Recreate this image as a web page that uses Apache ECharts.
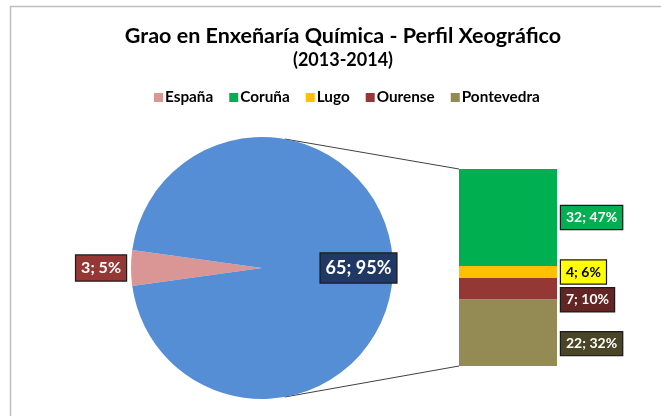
<!DOCTYPE html>
<html><head><meta charset="utf-8">
<script src="https://cdn.jsdelivr.net/npm/echarts@6/dist/echarts.min.js"></script>
<style>html,body{margin:0;padding:0;background:#fff}#c{width:661px;height:416px}</style>
</head><body><div id="c"></div>
<script>
// Data
const pieNames = ['Galicia', 'España'];
const pieValues = [65, 3];
const piePct = ['95%', '5%'];
const barNames = ['Coruña', 'Lugo', 'Ourense', 'Pontevedra'];
const barValues = [32, 4, 7, 22];
const barPct = ['47%', '6%', '10%', '32%'];
const legendNames = ['España', 'Coruña', 'Lugo', 'Ourense', 'Pontevedra'];

const FONT = 'Lato';
const pieColors = ['#558ED5', '#D99694'];
const pieLabelBg = ['#1F3864', '#953735'];
const pieLabelFg = ['#fff', '#fff'];
const pieLabelSize = [18, 16];
const barColors = ['#00B050', '#FFC000', '#953735', '#948A54'];
const barLabelBg = ['#00B050', '#FFFF00', '#632523', '#4A4526'];
const barLabelFg = ['#fff', '#000', '#fff', '#fff'];
const barLabelOffset = [[0, 0], [0, 0], [0, 11], [0, 11]];

const chart = echarts.init(document.getElementById('c'));
const center = [262, 268], R = 131;

const labelBase = {
  fontFamily: FONT, fontWeight: 'bold',
  borderColor: '#1a1a1a', borderWidth: 1.2
};

const pieData = pieNames.map((n, i) => ({
  name: n, value: pieValues[i],
  itemStyle: { color: pieColors[i] },
  label: Object.assign({}, labelBase, {
    show: true,
    position: i === 0 ? 'inside' : 'outside',
    distance: 3,
    fontSize: pieLabelSize[i],
    padding: i === 0 ? [6, 5, 5, 5] : [5, 5, 4, 5],
    formatter: pieValues[i] + '; ' + piePct[i],
    color: pieLabelFg[i], backgroundColor: pieLabelBg[i]
  }),
  labelLine: { show: false, length: 0, length2: 0 }
}));

// stacked: bottom first
const order = [3, 2, 1, 0];
const barSeries = order.map(i => ({
  name: barNames[i], type: 'bar', stack: 'o',
  data: [barValues[i]], barWidth: '100%',
  itemStyle: { color: barColors[i] },
  label: Object.assign({}, labelBase, {
    show: true, position: 'right', distance: 4,
    fontSize: 14, padding: [5, 5, 4, 5],
    offset: barLabelOffset[i],
    formatter: barValues[i] + '; ' + barPct[i],
    color: barLabelFg[i], backgroundColor: barLabelBg[i]
  })
}));

const angle = 80 * Math.PI / 180;

chart.setOption({
  animation: false,
  color: ['#D99694'].concat(barColors),
  title: [
    { text: 'Grao en Enxeñaría Química - Perfil Xeográfico', left: 338, textAlign: 'center', top: 20,
      textStyle: { fontFamily: FONT, fontWeight: 'bold', fontSize: 21.5, color: '#000' } },
    { text: '(2013-2014)', left: 338, textAlign: 'center', top: 46,
      textStyle: { fontFamily: FONT, fontWeight: 'bold', fontSize: 18, color: '#000' } }
  ],
  legend: {
    data: legendNames, top: 85, left: 149, icon: 'rect',
    itemWidth: 9, itemHeight: 9, itemGap: 16,
    textStyle: { fontFamily: FONT, fontWeight: 'bold', fontSize: 15.3, color: '#000', padding: [0, 0, 0, -3] }
  },
  grid: { left: 459, width: 98, top: 169, bottom: 50 },
  xAxis: { type: 'category', data: ['Galicia'], show: false },
  yAxis: { type: 'value', min: 0, max: 65, show: false },
  series: [
    {
      name: 'pie', type: 'pie', center: center, radius: R,
      startAngle: 180 + 180 * pieValues[1] / (pieValues[0] + pieValues[1]),
      clockwise: true,
      data: [pieData[1], pieData[0]],
      labelLayout: function (p) { return p.dataIndex === 1 ? { dx: 14 } : {}; },
      emphasis: { disabled: true }
    }
  ].concat(barSeries)
});

const tl = chart.convertToPixel({ gridIndex: 0 }, [0, 65]);
const bl = chart.convertToPixel({ gridIndex: 0 }, [0, 0]);
const x0 = 459;
const px = center[0] + R * Math.cos(angle);
const pyT = center[1] - R * Math.sin(angle);
const pyB = center[1] + R * Math.sin(angle);
chart.setOption({
  graphic: [
    { type: 'rect', shape: { x: 10.5, y: 6.5, width: 700, height: 500 }, style: { fill: 'none', stroke: '#BFBFBF', lineWidth: 1.5 }, silent: true, z: -10 },
    { type: 'line', shape: { x1: px, y1: pyT, x2: x0, y2: tl[1] }, style: { stroke: '#404040', lineWidth: 1 }, silent: true },
    { type: 'line', shape: { x1: px, y1: pyB, x2: x0, y2: bl[1] }, style: { stroke: '#404040', lineWidth: 1 }, silent: true }
  ]
});
</script></body></html>
